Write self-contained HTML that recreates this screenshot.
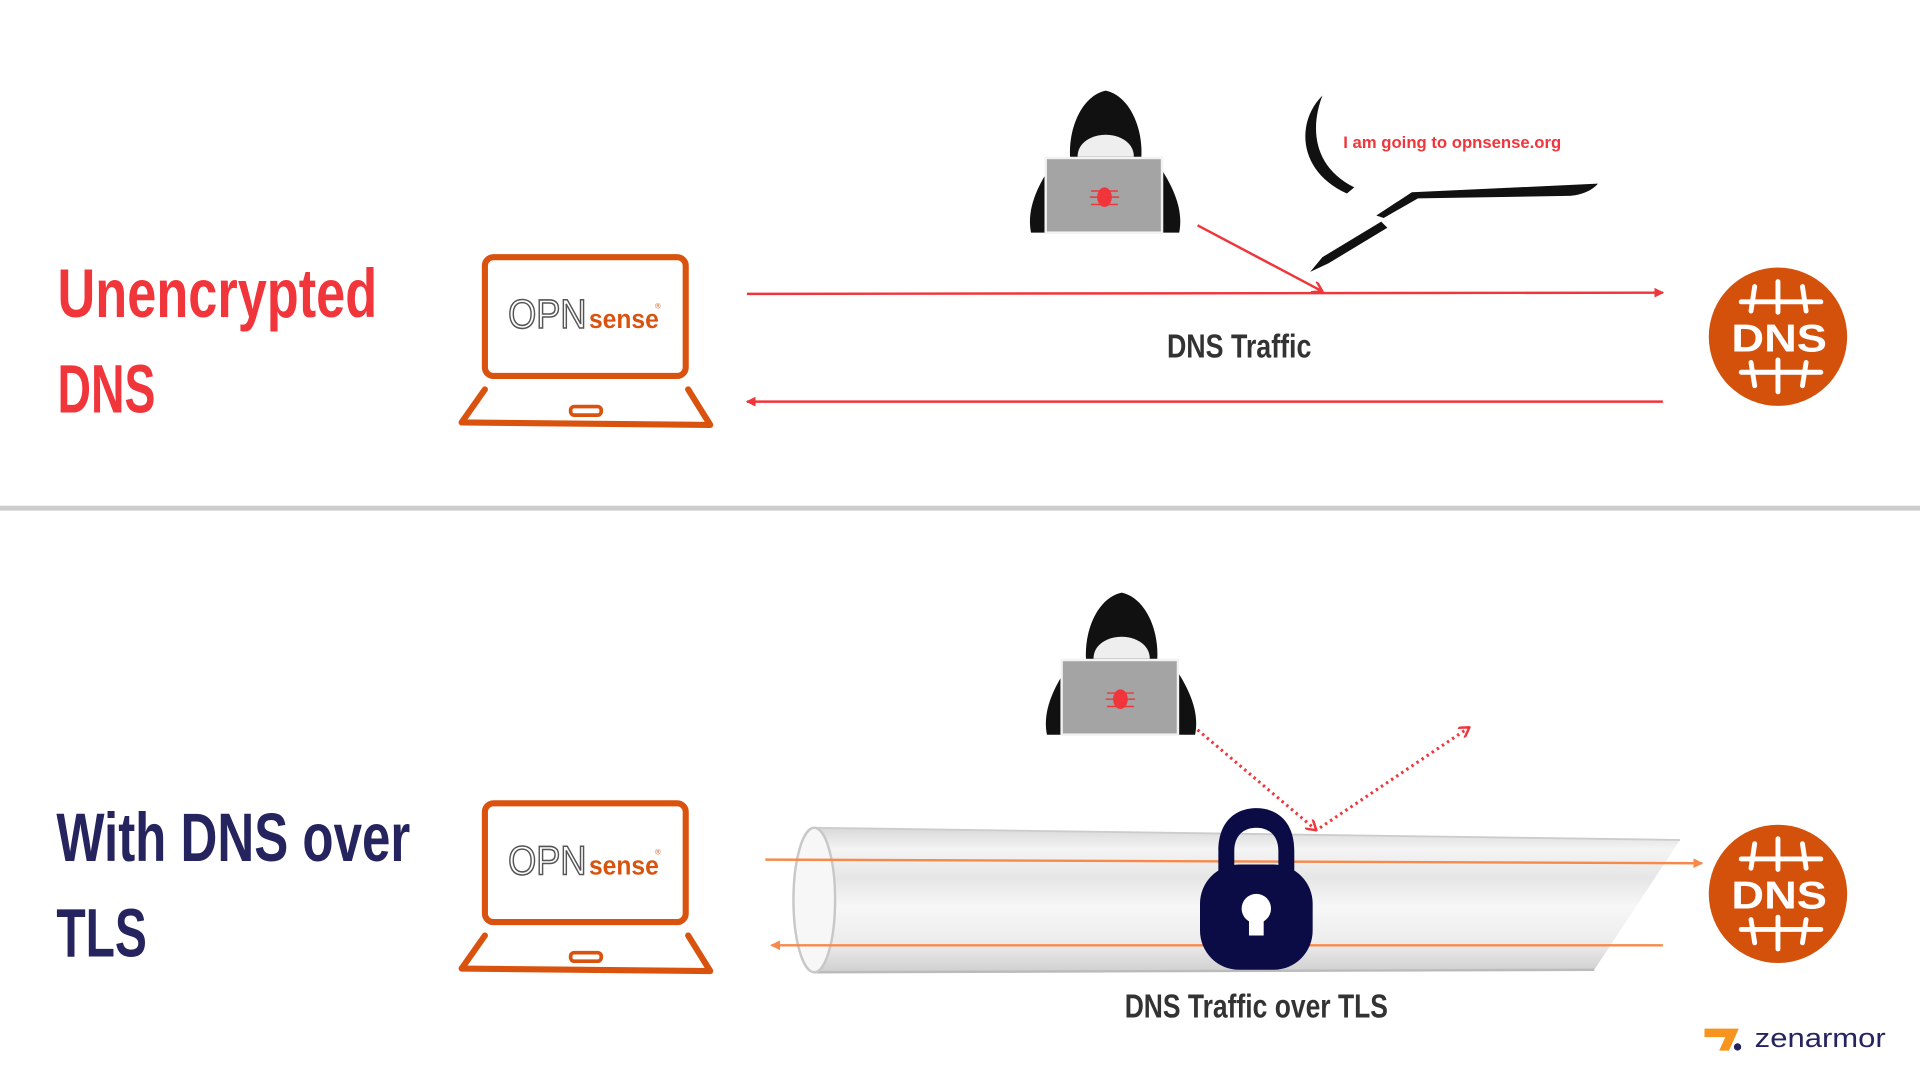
<!DOCTYPE html>
<html><head><meta charset="utf-8"><style>
html,body{margin:0;padding:0;background:#fff;width:1920px;height:1080px;overflow:hidden}
svg{display:block}
.cond{font-family:"Liberation Sans Narrow","Liberation Sans",sans-serif;font-weight:bold}
</style></head><body>
<svg width="1920" height="1080" viewBox="0 0 1568 882" preserveAspectRatio="none" xmlns="http://www.w3.org/2000/svg">
<defs>
<marker id="ar" markerWidth="8" markerHeight="8" refX="7" refY="4" orient="auto" markerUnits="userSpaceOnUse"><path d="M0,0 L8,4 L0,8 z" fill="#f0353b"/></marker>
<marker id="ao" markerWidth="8" markerHeight="8" refX="7" refY="4" orient="auto" markerUnits="userSpaceOnUse"><path d="M0,0 L8,4 L0,8 z" fill="#f7894a"/></marker>
<marker id="ad" markerWidth="10" markerHeight="10" refX="9" refY="5" orient="auto" markerUnits="userSpaceOnUse"><path d="M1,0 L9,5 L1,10" fill="none" stroke="#f0353b" stroke-width="2"/></marker>
<linearGradient id="tube" x1="0" y1="0" x2="0" y2="1">
<stop offset="0" stop-color="#d8d8d8"/><stop offset="0.15" stop-color="#f4f4f4"/><stop offset="0.35" stop-color="#e6e6e6"/><stop offset="0.55" stop-color="#f7f7f7"/><stop offset="0.8" stop-color="#ececec"/><stop offset="1" stop-color="#cfcfcf"/>
</linearGradient>
<g id="laptop">
<rect x="396" y="210" width="164" height="97" rx="7" fill="none" stroke="#d9530f" stroke-width="5"/>
<path d="M396,318 L377,345 L580,347 L562,318" fill="none" stroke="#d9530f" stroke-width="5" stroke-linecap="round" stroke-linejoin="round"/>
<rect x="466" y="332" width="25" height="7" rx="3" fill="none" stroke="#d9530f" stroke-width="3"/>
<text x="415" y="268" font-family="Liberation Sans Narrow, Liberation Sans, sans-serif" font-size="33" fill="none" stroke="#555" stroke-width="1.3" textLength="64" lengthAdjust="spacingAndGlyphs">OPN</text>
<text x="481" y="268" class="cond" font-size="21" fill="#d9530f" textLength="57" lengthAdjust="spacingAndGlyphs">sense</text>
<text x="535" y="252" font-family="Liberation Sans, sans-serif" font-size="6" fill="#d9530f">®</text>
</g>
<g id="dns">
<circle cx="1452" cy="275" r="56.5" fill="#d4510c"/>
<g stroke="#fff" stroke-width="4" stroke-linecap="round" fill="none">
<line x1="1422" y1="246.5" x2="1487" y2="246.5"/>
<line x1="1422" y1="304" x2="1487" y2="304"/>
<line x1="1452" y1="230" x2="1452" y2="255"/>
<line x1="1452" y1="294" x2="1452" y2="320"/>
<path d="M1433,234 L1430,254"/><path d="M1472,234 L1475,254"/>
<path d="M1430,296 L1433,315"/><path d="M1475,296 L1472,315"/>
</g>
<text x="1453" y="287" text-anchor="middle" font-family="Liberation Sans, sans-serif" font-weight="bold" font-size="32" fill="#fff" textLength="78" lengthAdjust="spacingAndGlyphs">DNS</text>
</g>
<g id="hacker">
<path d="M903,74 C884,78 872,104 874,130 L932,130 C934,104 922,78 903,74 z" fill="#111"/>
<path d="M880,128 C880,116 892,110 903,110 C914,110 926,116 926,128 z" fill="#eee"/>
<path d="M862,130 C848,150 838,170 842,190 L963,190 C967,170 957,150 943,130 z" fill="#111"/>
<rect x="854" y="129" width="95" height="61" fill="#a4a4a4" stroke="#f2f2f2" stroke-width="2"/>
<ellipse cx="902" cy="161" rx="6" ry="8" fill="#f0353b"/>
<g stroke="#f0353b" stroke-width="1.2"><line x1="891" y1="156" x2="913" y2="156"/><line x1="890" y1="161" x2="914" y2="161"/><line x1="891" y1="167" x2="913" y2="167"/></g>
</g>
</defs>

<text x="47" y="259" class="cond" font-size="56" fill="#f0353b" textLength="261" lengthAdjust="spacingAndGlyphs">Unencrypted</text>
<text x="47" y="337" class="cond" font-size="56" fill="#f0353b" textLength="80" lengthAdjust="spacingAndGlyphs">DNS</text>
<use href="#laptop"/>
<use href="#dns"/>
<use href="#hacker"/>
<line x1="610" y1="240" x2="1358" y2="239" stroke="#f0353b" stroke-width="2" marker-end="url(#ar)"/>
<line x1="1358" y1="328" x2="610" y2="328" stroke="#f0353b" stroke-width="2" marker-end="url(#ar)"/>
<line x1="978" y1="184" x2="1080" y2="238" stroke="#f0353b" stroke-width="2" marker-end="url(#ad)"/>
<text x="1012" y="292" text-anchor="middle" class="cond" font-size="27" fill="#333" textLength="118" lengthAdjust="spacingAndGlyphs">DNS Traffic</text>
<path d="M1080,78 C1058,100 1060,140 1100,158 L1106,153 C1072,136 1070,104 1080,78 z" fill="#111"/>
<path d="M1153,157 L1305,150 C1300,156 1290,160 1280,160 L1158,162 L1130,178 L1124,176 z" fill="#111"/>
<path d="M1128,181 L1133,186 L1085,215 L1070,222 L1080,210 z" fill="#111"/>
<text x="1097" y="121" font-family="Liberation Sans, sans-serif" font-weight="bold" font-size="13.5" fill="#f0353b" textLength="178" lengthAdjust="spacingAndGlyphs">I am going to opnsense.org</text>

<rect x="0" y="413" width="1568" height="4" fill="#cccccc"/>

<text x="46" y="703" class="cond" font-size="56" fill="#25245e" textLength="289" lengthAdjust="spacingAndGlyphs">With DNS over</text>
<text x="46" y="781" class="cond" font-size="56" fill="#25245e" textLength="74" lengthAdjust="spacingAndGlyphs">TLS</text>
<use href="#laptop" transform="translate(0,446)"/>
<use href="#dns" transform="translate(0,455)"/>
<use href="#hacker" transform="translate(13,410)"/>
<path d="M665,676 L1372,686 L1302,792 L665,794 z" fill="url(#tube)"/>
<line x1="665" y1="676" x2="1372" y2="686" stroke="#ccc" stroke-width="1.5"/>
<line x1="665" y1="794" x2="1302" y2="792" stroke="#bbb" stroke-width="2"/>
<ellipse cx="665" cy="735" rx="17" ry="59" fill="#f7f7f7" stroke="#c8c8c8" stroke-width="2"/>
<line x1="625" y1="702" x2="1390" y2="705" stroke="#f7894a" stroke-width="2" marker-end="url(#ao)"/>
<line x1="1358" y1="772" x2="630" y2="772" stroke="#f7894a" stroke-width="2" marker-end="url(#ao)"/>
<path d="M995,716 L995,695 C995,670 1010,660 1026,660 C1042,660 1057,670 1057,695 L1057,716 L1044,716 L1044,695 C1044,682 1036,676 1026,676 C1016,676 1008,682 1008,695 L1008,716 z" fill="#0b0b45"/>
<rect x="980" y="706" width="92" height="86" rx="32" fill="#0b0b45"/>
<circle cx="1026" cy="742" r="12" fill="#fff"/>
<rect x="1020" y="745" width="12" height="19" fill="#fff"/>
<line x1="978" y1="596" x2="1075" y2="678" stroke="#f0353b" stroke-width="2.5" stroke-dasharray="2,3" marker-end="url(#ad)"/>
<line x1="1078" y1="676" x2="1200" y2="594" stroke="#f0353b" stroke-width="2.5" stroke-dasharray="2,3" marker-end="url(#ad)"/>
<text x="1026" y="831" text-anchor="middle" class="cond" font-size="27" fill="#333" textLength="215" lengthAdjust="spacingAndGlyphs">DNS Traffic over TLS</text>
<path d="M1392,840 L1420,840 L1412,858 L1404,858 L1409,847 L1392,847 z" fill="#f7941d"/>
<circle cx="1419" cy="855" r="3" fill="#25245e"/>
<text x="1433" y="855" font-family="Liberation Sans, sans-serif" font-size="22" fill="#25245e" textLength="107" lengthAdjust="spacingAndGlyphs">zenarmor</text>
</svg>
</body></html>
